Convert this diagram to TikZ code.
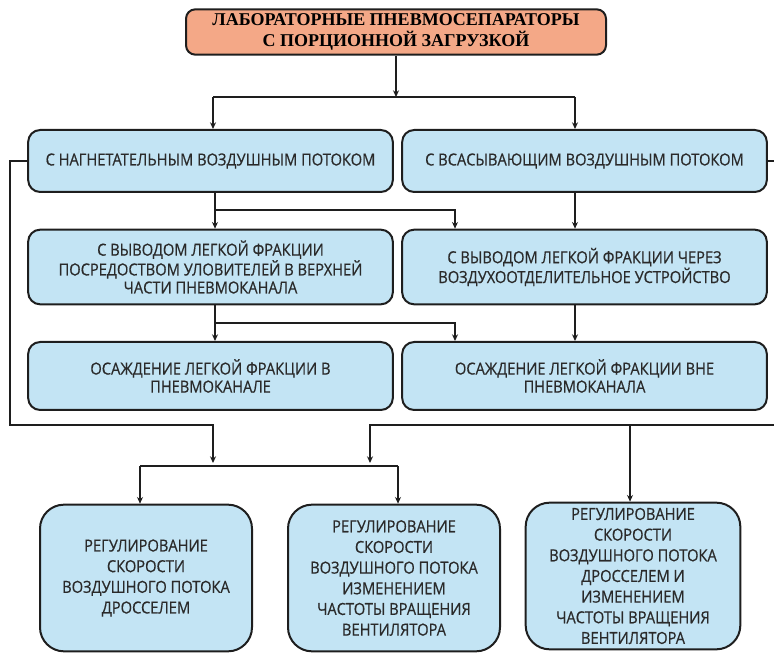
\documentclass[tikz,border=0pt]{standalone}
\usepackage{fontspec}
\setmainfont{Liberation Serif}
\setsansfont[FakeStretch=0.88,FakeBold=0.5]{Open Sans}
\usepackage{tikz}
\usetikzlibrary{arrows.meta,positioning}
\usepackage{xcolor}
\definecolor{headfill}{HTML}{F4A887}
\definecolor{boxfill}{HTML}{C3E4F4}
\definecolor{edge}{HTML}{1E1E1E}
\definecolor{ink}{HTML}{2A2A2A}

\begin{document}
\begin{tikzpicture}[x=0.75pt, y=-0.75pt,
  head/.style={draw=edge, line width=1.5pt, rounded corners=7pt, fill=headfill, align=center,
    minimum width=315pt, minimum height=34pt, inner sep=2pt,
    font=\fontsize{13.5}{16}\selectfont\bfseries},
  grp/.style={draw=edge, line width=1.5pt, rounded corners=9pt, fill=boxfill, align=center,
    minimum width=273.5pt, inner sep=2pt, text=ink, font=\sffamily\fontsize{12.5}{13.5}\selectfont},
  reg/.style={draw=edge, line width=1.5pt, rounded corners=18pt, fill=boxfill, align=center,
    minimum width=159pt, minimum height=110pt, inner sep=2pt, text=ink, font=\sffamily\fontsize{12.5}{15.5}\selectfont},
  link/.style={-{Stealth[length=5pt,width=4.5pt]}, line width=1.3pt, draw=edge},
  wire/.style={line width=1.3pt, draw=edge}
]
  \useasboundingbox (0,0) rectangle (774,655);

  \node[head] (top) at (396,32) {ЛАБОРАТОРНЫЕ ПНЕВМОСЕПАРАТОРЫ\\С ПОРЦИОННОЙ ЗАГРУЗКОЙ};

  \node[grp, minimum height=46.5pt] (r1l) at (210.5,161) {С НАГНЕТАТЕЛЬНЫМ ВОЗДУШНЫМ ПОТОКОМ};
  \node[grp, minimum height=46.5pt] (r1r) at (584.5,161) {С ВСАСЫВАЮЩИМ ВОЗДУШНЫМ ПОТОКОМ};
  \node[grp, minimum height=56pt] (r2l) at (210.5,267) {С ВЫВОДОМ ЛЕГКОЙ ФРАКЦИИ\\ПОСРЕДОСТВОМ УЛОВИТЕЛЕЙ В ВЕРХНЕЙ\\ЧАСТИ ПНЕВМОКАНАЛА};
  \node[grp, minimum height=56pt] (r2r) at (584.5,267) {С ВЫВОДОМ ЛЕГКОЙ ФРАКЦИИ ЧЕРЕЗ\\ВОЗДУХООТДЕЛИТЕЛЬНОЕ УСТРОЙСТВО};
  \node[grp, minimum height=51pt] (r3l) at (210.5,376) {ОСАЖДЕНИЕ ЛЕГКОЙ ФРАКЦИИ В\\ПНЕВМОКАНАЛЕ};
  \node[grp, minimum height=51pt] (r3r) at (584.5,376) {ОСАЖДЕНИЕ ЛЕГКОЙ ФРАКЦИИ ВНЕ\\ПНЕВМОКАНАЛА};

  \node[reg] (b1) at (146,578) {РЕГУЛИРОВАНИЕ\\СКОРОСТИ\\ВОЗДУШНОГО ПОТОКА\\ДРОССЕЛЕМ};
  \node[reg] (b2) at (394,578) {РЕГУЛИРОВАНИЕ\\СКОРОСТИ\\ВОЗДУШНОГО ПОТОКА\\ИЗМЕНЕНИЕМ\\ЧАСТОТЫ ВРАЩЕНИЯ\\ВЕНТИЛЯТОРА};
  \node[reg, minimum width=161pt] (b3) at (633,576) {РЕГУЛИРОВАНИЕ\\СКОРОСТИ\\ВОЗДУШНОГО ПОТОКА\\ДРОССЕЛЕМ И\\ИЗМЕНЕНИЕМ\\ЧАСТОТЫ ВРАЩЕНИЯ\\ВЕНТИЛЯТОРА};

  % splits
  \coordinate (s0) at (213,97);
  \coordinate (s1) at (575,97);
  \coordinate (s2) at (215,210);
  \coordinate (s3) at (455,210);
  \coordinate (s4) at (215,323);
  \coordinate (s5) at (455,323);
  \coordinate (s6) at (10,425);
  \coordinate (s7) at (213,463);
  \coordinate (s8) at (782,425);
  \coordinate (s9) at (370,463);
  \coordinate (s10) at (630,425);
  \coordinate (s11) at (140,466);
  \coordinate (s12) at (398,466);

  \draw[link] (top.south) -- (top.south |- s0);
  \draw[wire] (s0) -- (s1);
  \draw[link] (s0) -- (s0 |- r1l.north);
  \draw[link] (s1) -- (s1 |- r1r.north);

  \draw[link] (s2 |- r1l.south) -- (s2 |- r2l.north);
  \draw[link] (s2) -| (s3 |- r2r.north);
  \draw[link] (s1 |- r1r.south) -- (s1 |- r2r.north);

  \draw[link] (s4 |- r2l.south) -- (s4 |- r3l.north);
  \draw[link] (s4) -| (s5 |- r3r.north);
  \draw[link] (s1 |- r2r.south) -- (s1 |- r3r.north);

  % side buses
  \draw[link] (r1l.west) -| (s6) -| (s7);
  \draw[link] (r1r.east) -| (s8) -| (s9);
  \draw[link] (s10) -- (s10 |- b3.north);

  \draw[wire] (s11) -- (s12);
  \draw[link] (s11) -- (s11 |- b1.north);
  \draw[link] (s12) -- (s12 |- b2.north);
\end{tikzpicture}
\end{document}
